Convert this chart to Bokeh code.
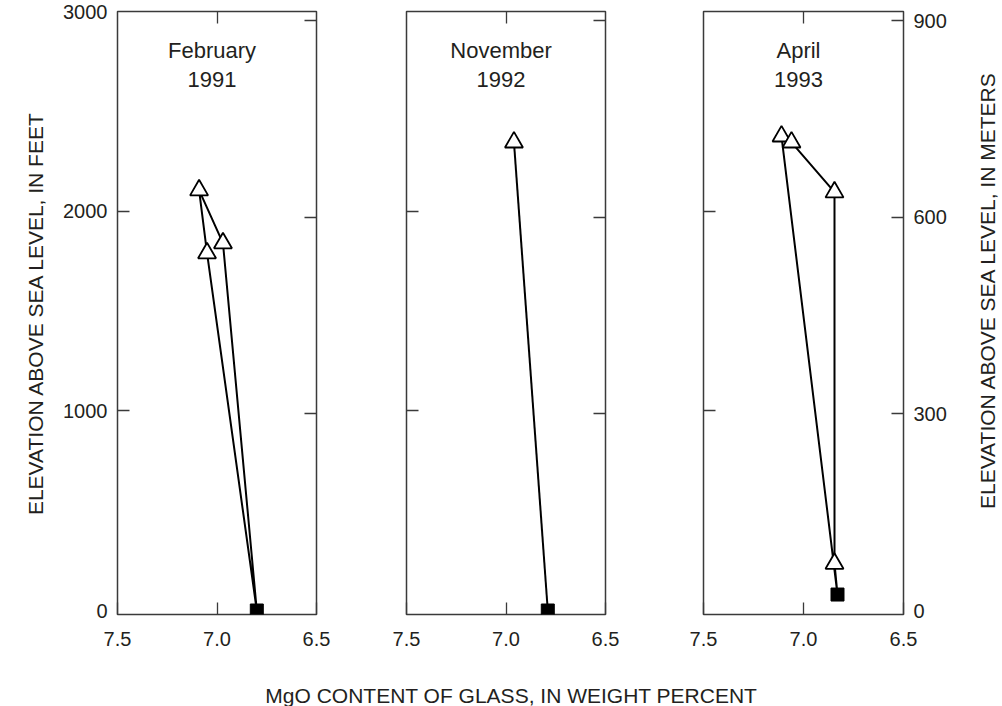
import math
from bokeh.plotting import figure
from bokeh.models import Range1d, LinearAxis, FixedTicker, PrintfTickFormatter, CustomJSTickFormatter
from bokeh.layouts import row, column
from bokeh.embed import file_html
from bokeh.resources import INLINE
from bokeh.core.properties import value

# ---------------- data ----------------
panel_months = ["February", "November", "April"]
panel_years = ["1991", "1992", "1993"]

# samples (triangles): MgO wt % and elevation in feet; vent (square)
feb_sample_mgo = [7.09, 7.05, 6.97]
feb_sample_ft = [2105, 1790, 1840]
feb_vent_mgo = [6.80]
feb_vent_ft = [0]
feb_path = [("v", 0), ("s", 1), ("s", 0), ("s", 2), ("v", 0)]

nov_sample_mgo = [6.96]
nov_sample_ft = [2345]
nov_vent_mgo = [6.79]
nov_vent_ft = [0]
nov_path = [("v", 0), ("s", 0)]

apr_sample_mgo = [7.11, 7.06, 6.845, 6.845]
apr_sample_ft = [2375, 2345, 2095, 235]
apr_vent_mgo = [6.83]
apr_vent_ft = [80]
apr_path = [("v", 0), ("s", 0), ("s", 1), ("s", 2), ("s", 3), ("v", 0)]

x_ticks = [7.5, 7.0, 6.5]
ft_ticks = [0, 1000, 2000, 3000]
m_ticks = [0, 300, 600, 900]
M_PER_FT = 0.3048

x_title = "MgO CONTENT OF GLASS, IN WEIGHT PERCENT"
y_title_left = "ELEVATION ABOVE SEA LEVEL, IN FEET"
y_title_right = "ELEVATION ABOVE SEA LEVEL, IN METERS"

# ---------------- styling / layout ----------------
FONT = "Liberation Sans"
TXT = "#231f20"
AX = "#3a3a3a"
Y0, Y1 = -20, 3000
TITLE_X = 7.025
TITLE_Y1, TITLE_Y2 = 2807, 2659
PANEL_H = 656
BOTTOM_H = 706 - PANEL_H
RIGHT_W = 49


def tick_axis(ticks, y_range_name=None):
    kw = {}
    if y_range_name:
        kw["y_range_name"] = y_range_name
    return LinearAxis(ticker=FixedTicker(ticks=ticks), major_tick_in=12, major_tick_out=0,
                      minor_tick_in=0, minor_tick_out=0, major_label_text_font_size="0px",
                      major_label_standoff=0, axis_line_color=None,
                      major_tick_line_color=AX, major_tick_line_width=1.3,
                      formatter=CustomJSTickFormatter(code="return ''"), **kw)


def label_axis(ticks, fmt, y_range_name=None):
    kw = {}
    if y_range_name:
        kw["y_range_name"] = y_range_name
    ax = LinearAxis(ticker=FixedTicker(ticks=ticks), major_tick_in=0, major_tick_out=0,
                    minor_tick_in=0, minor_tick_out=0, major_label_standoff=10,
                    major_label_text_font_size="20px", major_label_text_font=FONT,
                    major_label_text_color=TXT, axis_line_color=None,
                    formatter=PrintfTickFormatter(format=fmt), **kw)
    ax.axis_label_text_font = FONT
    ax.axis_label_text_font_size = "21px"
    ax.axis_label_text_font_style = "normal"
    ax.axis_label_text_color = TXT
    return ax


def make_panel(i, width, bl, br, s_mgo, s_ft, v_mgo, v_ft, path):
    p = figure(width=width, height=PANEL_H, x_range=Range1d(7.5, 6.5), y_range=Range1d(Y0, Y1),
               x_axis_location=None, y_axis_location=None, toolbar_location=None,
               output_backend="svg", min_border_left=bl, min_border_right=br,
               min_border_top=11, min_border_bottom=PANEL_H - 614)
    p.extra_y_ranges = {"m": Range1d(Y0 * M_PER_FT, Y1 * M_PER_FT)}
    p.outline_line_color = AX
    p.outline_line_width = 1.5
    p.background_fill_color = "white"
    p.border_fill_color = "white"
    p.xgrid.visible = False
    p.ygrid.visible = False

    xb = LinearAxis(ticker=FixedTicker(ticks=x_ticks), major_tick_in=12, major_tick_out=0,
                    minor_tick_in=0, minor_tick_out=0, major_label_standoff=17,
                    major_label_text_font_size="20px", major_label_text_font=FONT,
                    major_label_text_color=TXT, axis_line_color=None,
                    major_tick_line_color=AX, major_tick_line_width=1.3,
                    formatter=PrintfTickFormatter(format="%.1f"))
    p.add_layout(xb, "below")
    p.add_layout(tick_axis([7.0]), "above")

    p.add_layout(tick_axis([1000, 2000]), "left")
    if i == 0:
        la = label_axis(ft_ticks, "%d")
        la.axis_label = y_title_left
        la.axis_label_standoff = 13
        p.add_layout(la, "left")

    p.add_layout(tick_axis([300, 600, 900], "m"), "right")
    if i == 2:
        p.add_layout(label_axis(m_ticks, "%d", "m"), "right")

    line_x = [(v_mgo if k == "v" else s_mgo)[j] for k, j in path]
    line_y = [(v_ft if k == "v" else s_ft)[j] for k, j in path]
    p.line(line_x, line_y, line_color="black", line_width=2)
    p.scatter(s_mgo, s_ft, marker="triangle", size=18, fill_color="white",
              line_color="black", line_width=1.8)
    p.scatter(v_mgo, v_ft, marker="square", size=13, fill_color="black",
              line_color="black", line_width=1)

    for ty, txt in ((TITLE_Y1, panel_months[i]), (TITLE_Y2, panel_years[i])):
        p.text(x=[TITLE_X], y=[ty], text=[txt], text_font=value(FONT),
               text_font_size="22px", text_align="center", text_baseline="middle",
               text_color=TXT)
    return p


def strip(width, height):
    s = figure(width=width, height=height, x_range=Range1d(0, width), y_range=Range1d(0, height),
               x_axis_location=None, y_axis_location=None, toolbar_location=None,
               output_backend="svg", min_border=0)
    s.outline_line_color = None
    s.xgrid.visible = False
    s.ygrid.visible = False
    return s


p1 = make_panel(0, 361, 117, 45, feb_sample_mgo, feb_sample_ft, feb_vent_mgo, feb_vent_ft, feb_path)
p2 = make_panel(1, 293, 45, 49, nov_sample_mgo, nov_sample_ft, nov_vent_mgo, nov_vent_ft, nov_path)
p3 = make_panel(2, 1002 - 361 - 293 - RIGHT_W, 49, 1002 - 361 - 293 - RIGHT_W - 49 - 200,
                apr_sample_mgo, apr_sample_ft, apr_vent_mgo, apr_vent_ft, apr_path)

# right axis title (reads bottom to top)
rs = strip(RIGHT_W, PANEL_H)
rs.text(x=[34], y=[PANEL_H - 303], text=[y_title_right], angle=math.pi / 2,
        text_font=value(FONT), text_font_size="21px", text_align="center",
        text_baseline="middle", text_color=TXT)

# bottom axis title spanning the three panels
bs = strip(1002, BOTTOM_H)
bs.text(x=[511], y=[BOTTOM_H - 39], text=[x_title], text_font=value(FONT),
        text_font_size="21px", text_align="center", text_baseline="middle", text_color=TXT)

layout = column(row(p1, p2, p3, rs), bs)
open("out.html", "w").write(file_html(layout, INLINE))
